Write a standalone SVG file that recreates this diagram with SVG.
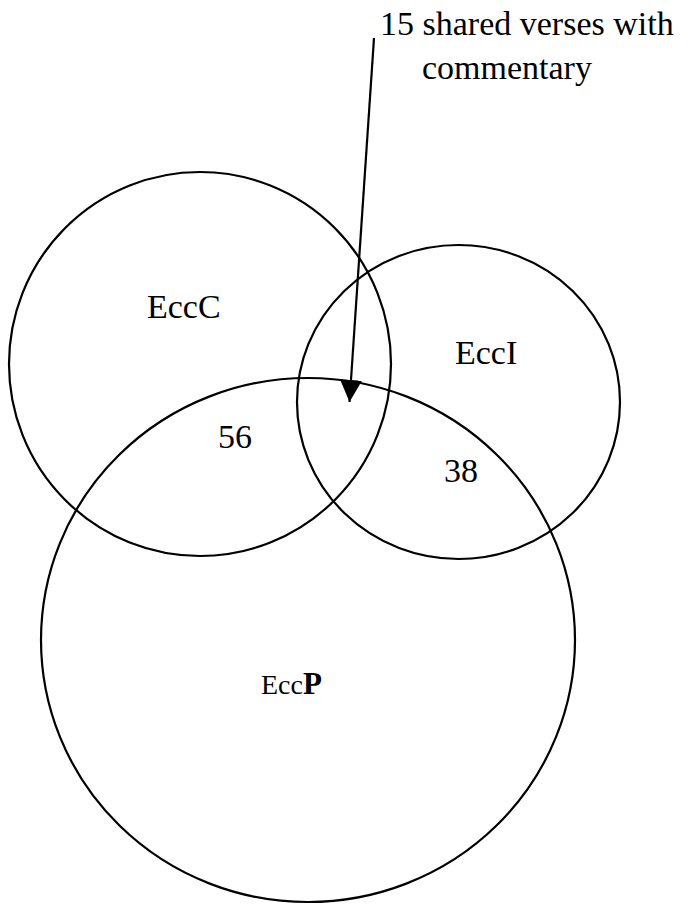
<svg xmlns="http://www.w3.org/2000/svg" width="695" height="904" viewBox="0 0 695 904">
<style>
.set{fill:none;stroke:#000;stroke-width:2.2}
.lbl{font-family:"Liberation Serif","Times New Roman",serif;font-size:34px;fill:#000}
.conn{stroke:#000;stroke-width:2.2;fill:none}
</style>
<defs>
<marker id="ah" markerUnits="userSpaceOnUse" markerWidth="22" markerHeight="22" viewBox="0 0 20 20" refX="20" refY="10" orient="auto">
<path d="M0,0 L20,10 L0,20 z" fill="#000"/>
</marker>
</defs>
<rect width="695" height="904" fill="#fff"/>
<g id="EccC">
<ellipse class="set" cx="200" cy="364" rx="191" ry="192"/>
<text class="lbl" x="147" y="318">EccC</text>
</g>
<g id="EccI">
<ellipse class="set" cx="458.5" cy="402" rx="161.5" ry="157"/>
<text class="lbl" x="455" y="364">EccI</text>
</g>
<g id="EccP">
<ellipse class="set" cx="308" cy="640" rx="267" ry="262"/>
<text class="lbl" x="261" y="694"><tspan style="font-size:28px">Ecc</tspan><tspan style="font-size:31px;font-weight:bold">P</tspan></text>
</g>
<g id="region-labels">
<text class="lbl" x="218" y="448">56</text>
<text class="lbl" x="444" y="482">38</text>
</g>
<g id="note">
<text class="lbl" x="380" y="35">15 shared verses with</text>
<text class="lbl" x="422" y="79">commentary</text>
</g>
<g id="connectors">
<line class="conn" x1="374" y1="38" x2="349.5" y2="402" marker-end="url(#ah)"/>
</g>
</svg>
